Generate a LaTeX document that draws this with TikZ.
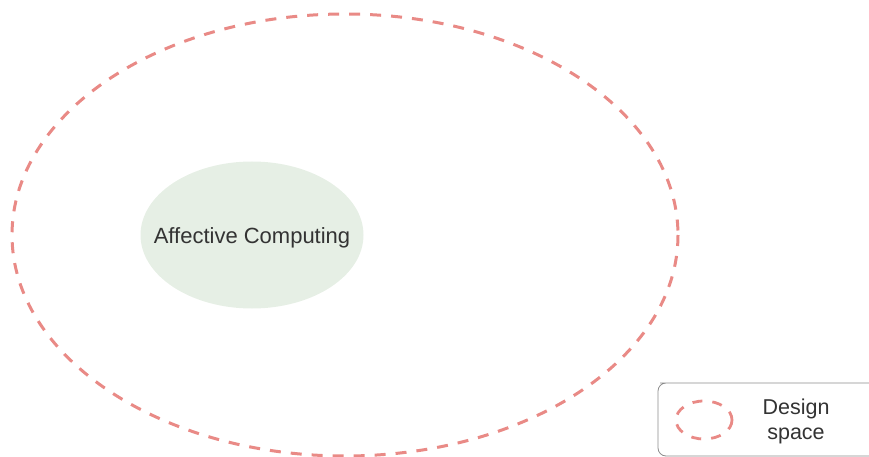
\documentclass[tikz,border=0pt]{standalone}
\usepackage{fontspec}
\setmainfont{Liberation Sans}
\usetikzlibrary{shapes.geometric}
\definecolor{spaceline}{HTML}{E98A86}
\definecolor{areafill}{HTML}{E6EFE5}
\definecolor{legendline}{HTML}{8A8A8A}
\definecolor{labeltext}{HTML}{333333}
\tikzset{
  spaceborder/.style={draw=spaceline, line width=3pt, dash pattern=on 11pt off 10pt},
  area/.style={ellipse, fill=areafill, draw=none, inner sep=0pt},
  legendbox/.style={draw=legendline, line width=0.8pt, rounded corners=8pt},
  caption/.style={text=labeltext, align=center, font=\fontsize{22}{25}\selectfont},
}
\begin{document}
\begin{tikzpicture}[x=1pt, y=-1pt]
  \useasboundingbox (0,0) rectangle (869,457);
  % design space boundary
  \draw[spaceborder] (345,235) ellipse [x radius=333, y radius=221];
  % research area
  \node[area, minimum width=223pt, minimum height=147pt] (ac) at (252,235) {};
  \node[caption] (acl) at ([yshift=-3pt]ac.center) {Affective Computing};
  % legend
  \draw[legendbox] (875,383) -- (668,383) -- (658,383) -- (658,456) -- (875,456);
  \draw[spaceline, line width=2.8pt, dash pattern=on 10pt off 10pt] (704,420) ellipse [x radius=28, y radius=19];
  \node[caption, font=\fontsize{21.5}{25}\selectfont] (lg) at (796,421) {Design\\space};
\end{tikzpicture}
\end{document}
